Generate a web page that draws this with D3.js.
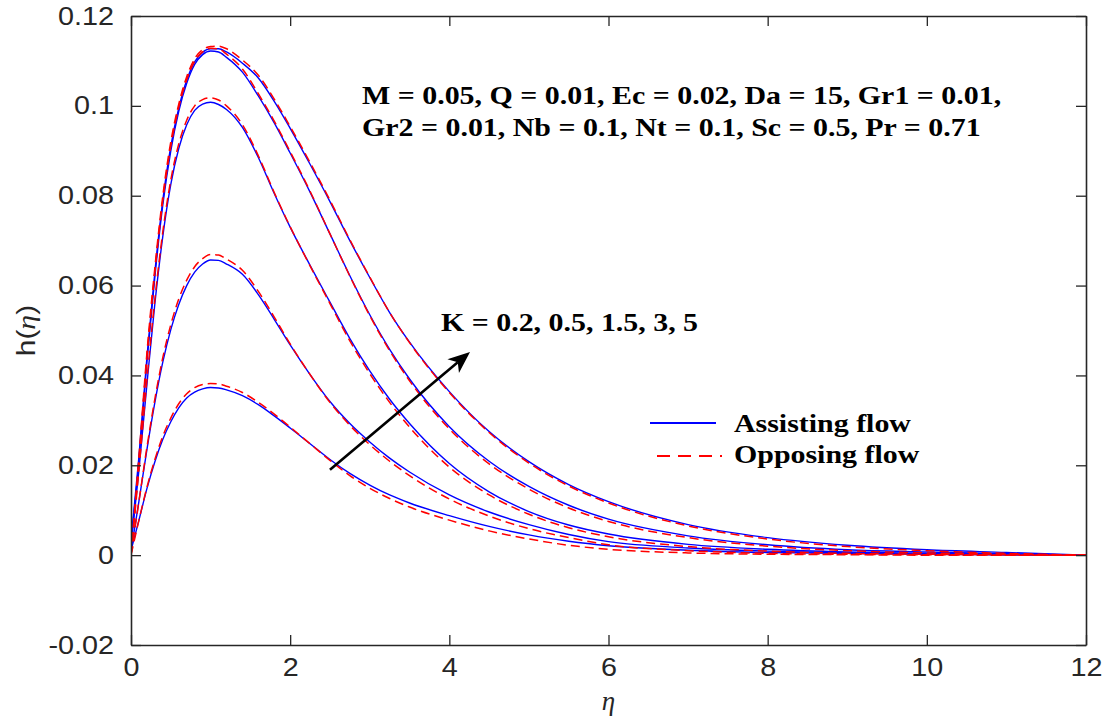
<!DOCTYPE html>
<html>
<head>
<meta charset="utf-8">
<script src="https://cdn.jsdelivr.net/npm/d3@7"></script>
<style>
  html, body { margin: 0; padding: 0; background: #fff; }
  #chart { width: 1111px; height: 721px; }
</style>
</head>
<body>
<div id="chart"></div>
<script>
// eta grid shared by every curve
const eta = [0, 0.1, 0.2, 0.3, 0.4, 0.5, 0.6, 0.7, 0.8, 0.9, 1.0, 1.1, 1.2, 1.4, 1.6, 1.8, 2.0, 2.25, 2.5, 2.75,
             3.0, 3.25, 3.5, 4.0, 4.5, 5.0, 5.5, 6.0, 7.0, 8.0, 9.0, 10.0, 11.0, 12.0];

// assisting flow (blue, solid)
const assisting_k02 = [0.001, 0.0078, 0.0148, 0.0208, 0.0258, 0.0297, 0.0328, 0.0350, 0.0363, 0.0370, 0.0373, 0.0372, 0.0368,
                       0.0355, 0.0335, 0.0310, 0.0283, 0.0248, 0.0213, 0.0182, 0.0156, 0.0134, 0.0116, 0.0088, 0.0064,
                       0.0045, 0.0031, 0.0021, 0.0011, 0.0006, 0.0004, 0.0002, 0.0001, 0];
const assisting_k05 = [0.001, 0.012, 0.0235, 0.0340, 0.0430, 0.0502, 0.0558, 0.0600, 0.0630, 0.0648, 0.0657, 0.0656, 0.0648,
                       0.0625, 0.0580, 0.0525, 0.0468, 0.0402, 0.0342, 0.0293, 0.0252, 0.0216, 0.0185, 0.0134, 0.0096,
                       0.0068, 0.0046, 0.0030, 0.0016, 0.0009, 0.0005, 0.0003, 0.0001, 0];
const assisting_k15 = [0.002, 0.019, 0.038, 0.056, 0.071, 0.0825, 0.0905, 0.0958, 0.0990, 0.1004, 0.1008, 0.1003, 0.0992,
                       0.0952, 0.0885, 0.0805, 0.0730, 0.0645, 0.0563, 0.0482, 0.0410, 0.0347, 0.0293, 0.0204, 0.0141,
                       0.0097, 0.0067, 0.0047, 0.0024, 0.0013, 0.0007, 0.0004, 0.0002, 0];
const assisting_k3 = [0.003, 0.021, 0.043, 0.062, 0.078, 0.0900, 0.0988, 0.1050, 0.1092, 0.1114, 0.1122, 0.1120, 0.1108,
                      0.1075, 0.1022, 0.0962, 0.0895, 0.0808, 0.0715, 0.0622, 0.0535, 0.0458, 0.0392, 0.0286, 0.0209,
                      0.0153, 0.0111, 0.0080, 0.0043, 0.0023, 0.0012, 0.0007, 0.0003, 0];
const assisting_k5 = [0.003, 0.022, 0.044, 0.063, 0.079, 0.0910, 0.0995, 0.1057, 0.1098, 0.1119, 0.1127, 0.1127, 0.1120,
                      0.1095, 0.1062, 0.1010, 0.0950, 0.0870, 0.0787, 0.0700, 0.0618, 0.0540, 0.0474, 0.0364, 0.0275,
                      0.0208, 0.0157, 0.0119, 0.0068, 0.0039, 0.0022, 0.0012, 0.0006, 0];

// opposing flow (red, dashed)
const opposing_k02 = [0, 0.0078, 0.0151, 0.0213, 0.0265, 0.0305, 0.0337, 0.0359, 0.0373, 0.0380, 0.0382, 0.0381, 0.0376,
                      0.0362, 0.0340, 0.0314, 0.0285, 0.0248, 0.0211, 0.0177, 0.0149, 0.0126, 0.0107, 0.0078, 0.0054,
                      0.0036, 0.0022, 0.0013, 0.0005, 0.0002, 0.0001, 0, 0, 0];
const opposing_k05 = [0, 0.012, 0.0240, 0.0348, 0.0440, 0.0513, 0.0570, 0.0612, 0.0642, 0.0660, 0.0669, 0.0668, 0.0659,
                      0.0634, 0.0587, 0.0530, 0.0470, 0.0402, 0.0340, 0.0289, 0.0246, 0.0209, 0.0177, 0.0125, 0.0087,
                      0.0059, 0.0039, 0.0023, 0.0010, 0.0004, 0.0002, 0.0001, 0, 0];
const opposing_k15 = [0, 0.019, 0.039, 0.057, 0.072, 0.0835, 0.0915, 0.0968, 0.1000, 0.1014, 0.1018, 0.1013, 0.1000,
                      0.0958, 0.0889, 0.0807, 0.0731, 0.0644, 0.0560, 0.0477, 0.0404, 0.0340, 0.0285, 0.0196, 0.0134,
                      0.0091, 0.0061, 0.0041, 0.0019, 0.0009, 0.0004, 0.0002, 0.0001, 0];
const opposing_k3 = [0, 0.021, 0.044, 0.063, 0.079, 0.0910, 0.0997, 0.1058, 0.1099, 0.1120, 0.1128, 0.1127, 0.1115,
                     0.1082, 0.1027, 0.0966, 0.0898, 0.0810, 0.0715, 0.0621, 0.0533, 0.0455, 0.0388, 0.0281, 0.0203,
                     0.0147, 0.0105, 0.0075, 0.0039, 0.0020, 0.0010, 0.0005, 0.0002, 0];
const opposing_k5 = [0, 0.022, 0.045, 0.064, 0.080, 0.0920, 0.1004, 0.1065, 0.1105, 0.1125, 0.1132, 0.1133, 0.1127,
                     0.1102, 0.1068, 0.1015, 0.0954, 0.0874, 0.0790, 0.0702, 0.0619, 0.0540, 0.0473, 0.0362, 0.0273,
                     0.0205, 0.0154, 0.0116, 0.0065, 0.0036, 0.0019, 0.0010, 0.0004, 0];

const xTicks = [0, 2, 4, 6, 8, 10, 12];
const xTickLabels = ['0', '2', '4', '6', '8', '10', '12'];
const yTicks = [-0.02, 0, 0.02, 0.04, 0.06, 0.08, 0.1, 0.12];
const yTickLabels = ['-0.02', '0', '0.02', '0.04', '0.06', '0.08', '0.1', '0.12'];

const paramLines = ['M = 0.05, Q = 0.01, Ec = 0.02, Da = 15, Gr1 = 0.01,',
                    'Gr2 = 0.01, Nb = 0.1, Nt = 0.1, Sc = 0.5, Pr = 0.71'];
const kLabel = 'K = 0.2, 0.5, 1.5, 3, 5';
const legendNames = ['Assisting flow', 'Opposing flow'];
// arrow annotation, in data units (eta, h)
const arrowFrom = [2.5, 0.0190];
const arrowTo = [4.26, 0.0452];

const chart = {};

chart.create = function(config){
  this.config = config;
  this.config.margin = {top: 16, right: 25, bottom: 76, left: 131};
  this.config.width_svg = 1111;
  this.config.height_svg = 721;
  this.config.stretch = 1.15;   // the reference text is a bit wider than the font
  this.config.colorRule = {
    'assisting': '#0000ff',
    'opposing': '#ff0000',
  };
  this.config.svg = d3.select(`#${this.config.target}`)
                      .append('svg')
                      .attr('width', this.config.width_svg)
                      .attr('height', this.config.height_svg)
                      .style('display', 'block');
}

chart.update = function(){
  let data = this.config.data;
  let margin = this.config.margin,
      width_svg = this.config.width_svg,
      height_svg = this.config.height_svg,
      colorRule = this.config.colorRule,
      stretch = this.config.stretch,
      svg = this.config.svg.append('g');
  let axisColor = '#262626';
  let sansFont = '"Liberation Sans", Arial, Helvetica, sans-serif';
  let serifFont = '"Liberation Serif", "Times New Roman", serif';

  // widen a text node horizontally, keeping its anchor
  let widen = sel => sel.each(function(){
    let w = this.getComputedTextLength();
    d3.select(this).attr('textLength', w * stretch).attr('lengthAdjust', 'spacingAndGlyphs');
  });

  let xScale = d3.scaleLinear()
                .domain([0, 12])
                .range([margin.left, width_svg - margin.right]);
  let yScale = d3.scaleLinear()
                .domain([-0.02, 0.12])
                .range([height_svg - margin.bottom, margin.top]);

  // curves
  svg.append('clipPath').attr('id', 'clip_plot')
    .append('rect')
    .attr('x', margin.left).attr('y', margin.top)
    .attr('width', width_svg - margin.left - margin.right)
    .attr('height', height_svg - margin.top - margin.bottom);

  let line = d3.line()
              .x((d, i) => xScale(eta[i]))
              .y(d => yScale(d))
              .curve(d3.curveMonotoneX);

  svg.append('g')
    .attr('clip-path', 'url(#clip_plot)')
    .attr('fill', 'none')
    .selectAll('path')
    .data(data)
    .enter().append('path')
            .attr('stroke', d => colorRule[d.name])
            .attr('stroke-width', d => d.name === 'assisting' ? 1.4 : 1.5)
            .attr('stroke-dasharray', d => d.name === 'assisting' ? null : '9,5')
            .attr('d', d => line(d.values));

  // axes box, ticks inward
  let styleAxis = g => {
    g.select('.domain').attr('stroke', axisColor).attr('stroke-width', 1.6);
    g.selectAll('.tick line').attr('stroke', axisColor).attr('stroke-width', 1.3);
    g.selectAll('.tick text').attr('fill', axisColor)
      .attr('font-family', sansFont).attr('font-size', 25)
      .call(widen);
  };
  svg.append('g')
    .attr('transform', `translate(0, ${height_svg - margin.bottom})`)
    .call(d3.axisBottom(xScale).tickValues(xTicks).tickFormat((d, i) => xTickLabels[i])
            .tickSizeInner(-10).tickSizeOuter(0).tickPadding(13))
    .call(styleAxis);
  svg.append('g')
    .attr('transform', `translate(0, ${margin.top})`)
    .call(d3.axisTop(xScale).tickValues(xTicks).tickFormat('')
            .tickSizeInner(-10).tickSizeOuter(0))
    .call(styleAxis);
  svg.append('g')
    .attr('transform', `translate(${margin.left}, 0)`)
    .call(d3.axisLeft(yScale).tickValues(yTicks).tickFormat((d, i) => yTickLabels[i])
            .tickSizeInner(-10).tickSizeOuter(0).tickPadding(17))
    .call(styleAxis);
  svg.append('g')
    .attr('transform', `translate(${width_svg - margin.right}, 0)`)
    .call(d3.axisRight(yScale).tickValues(yTicks).tickFormat('')
            .tickSizeInner(-10).tickSizeOuter(0))
    .call(styleAxis);

  // axis labels
  let yLabel = svg.append('text')
    .attr('transform', `translate(35, ${(margin.top + height_svg - margin.bottom) / 2}) rotate(-90)`)
    .attr('text-anchor', 'middle')
    .attr('fill', axisColor)
    .attr('font-family', sansFont)
    .attr('font-size', 26);
  yLabel.append('tspan').text('h(');
  yLabel.append('tspan').attr('font-family', serifFont).attr('font-style', 'italic').text('η');
  yLabel.append('tspan').text(')');
  yLabel.call(widen);

  svg.append('text')
    .attr('x', (margin.left + width_svg - margin.right) / 2)
    .attr('y', 710)
    .attr('text-anchor', 'middle')
    .attr('fill', axisColor)
    .attr('font-family', serifFont)
    .attr('font-style', 'italic')
    .attr('font-size', 27)
    .text('η');

  // parameter text
  svg.append('g').selectAll('text')
    .data(paramLines)
    .enter().append('text')
            .attr('x', 362)
            .attr('y', (d, i) => 104 + 32 * i)
            .attr('font-family', serifFont)
            .attr('font-weight', 'bold')
            .attr('font-size', 26)
            .attr('fill', '#000')
            .text(d => d)
            .call(widen);

  // K annotation + arrow
  svg.append('text')
    .attr('x', 441)
    .attr('y', 331)
    .attr('font-family', serifFont)
    .attr('font-weight', 'bold')
    .attr('font-size', 26)
    .attr('fill', '#000')
    .text(kLabel)
    .call(widen);

  let x0 = xScale(arrowFrom[0]), y0 = yScale(arrowFrom[1]);
  let x1 = xScale(arrowTo[0]), y1 = yScale(arrowTo[1]);
  let ang = Math.atan2(y1 - y0, x1 - x0);
  let headLen = 22, headHalf = 9, notch = 6;
  let pt = (l, w) => [x1 - l * Math.cos(ang) - w * Math.sin(ang), y1 - l * Math.sin(ang) + w * Math.cos(ang)];
  svg.append('line')
    .attr('x1', x0).attr('y1', y0)
    .attr('x2', pt(headLen - notch, 0)[0]).attr('y2', pt(headLen - notch, 0)[1])
    .attr('stroke', '#000').attr('stroke-width', 2.6);
  svg.append('path')
    .attr('d', 'M' + [[x1, y1], pt(headLen, headHalf), pt(headLen - notch, 0), pt(headLen, -headHalf)].join('L') + 'Z')
    .attr('fill', '#000');

  // legend
  let g_legend = svg.append('g');
  g_legend.append('line')
    .attr('x1', 650).attr('x2', 716).attr('y1', 423).attr('y2', 423)
    .attr('stroke', colorRule.assisting).attr('stroke-width', 2);
  g_legend.append('line')
    .attr('x1', 657).attr('x2', 722).attr('y1', 456).attr('y2', 456)
    .attr('stroke', colorRule.opposing).attr('stroke-width', 2)
    .attr('stroke-dasharray', '13,8');
  g_legend.selectAll('text')
    .data(legendNames)
    .enter().append('text')
            .attr('x', 734)
            .attr('y', (d, i) => 432 + 31 * i)
            .attr('font-family', serifFont)
            .attr('font-weight', 'bold')
            .attr('font-size', 26)
            .attr('fill', '#000')
            .text(d => d)
            .call(widen);
}

chart.create({
  target: 'chart',
  data: [
    {name: 'assisting', k: '0.2', values: assisting_k02},
    {name: 'assisting', k: '0.5', values: assisting_k05},
    {name: 'assisting', k: '1.5', values: assisting_k15},
    {name: 'assisting', k: '3', values: assisting_k3},
    {name: 'assisting', k: '5', values: assisting_k5},
    {name: 'opposing', k: '0.2', values: opposing_k02},
    {name: 'opposing', k: '0.5', values: opposing_k05},
    {name: 'opposing', k: '1.5', values: opposing_k15},
    {name: 'opposing', k: '3', values: opposing_k3},
    {name: 'opposing', k: '5', values: opposing_k5},
  ]
});
chart.update();
</script>
</body>
</html>
